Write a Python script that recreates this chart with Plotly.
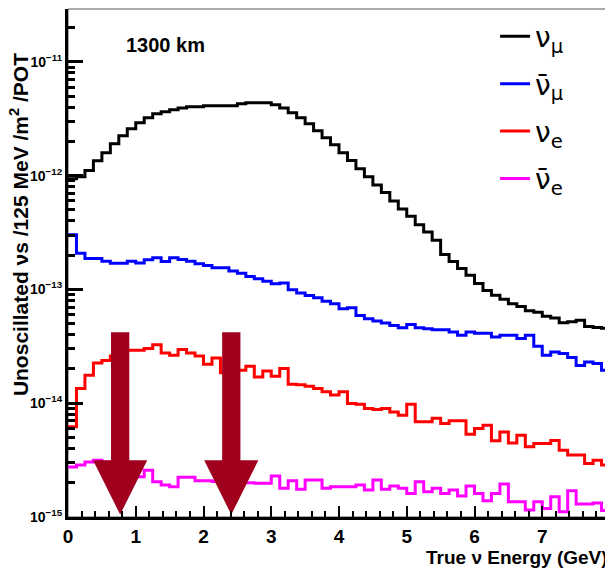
import numpy as np
import plotly.graph_objects as go

# ---------------- data ----------------
bin_width = 0.125  # GeV
n_bins = 64
bin_edges = [i * bin_width for i in range(n_bins + 1)]

numu = [9.4e-13, 9.8e-13, 1.11e-12, 1.35e-12, 1.59e-12, 1.91e-12, 2.24e-12, 2.58e-12,
        2.92e-12, 3.23e-12, 3.50e-12, 3.64e-12, 3.79e-12, 3.94e-12, 4.03e-12, 4.03e-12,
        4.11e-12, 4.11e-12, 4.11e-12, 4.11e-12, 4.29e-12, 4.37e-12, 4.37e-12, 4.37e-12,
        4.20e-12, 3.94e-12, 3.57e-12, 3.23e-12, 2.86e-12, 2.48e-12, 2.15e-12, 1.87e-12,
        1.59e-12, 1.36e-12, 1.15e-12, 9.8e-13, 8.3e-13, 7.1e-13, 6.0e-13, 5.1e-13,
        4.4e-13, 3.7e-13, 3.2e-13, 2.7e-13, 2.03e-13, 1.76e-13, 1.53e-13, 1.33e-13,
        1.13e-13, 9.8e-14, 8.9e-14, 8.2e-14, 7.5e-14, 7.1e-14, 6.5e-14, 6.3e-14,
        5.8e-14, 5.6e-14, 5.1e-14, 5.2e-14, 5.35e-14, 4.73e-14, 4.64e-14, 4.55e-14]

numubar = [3.03e-13, 2.08e-13, 1.87e-13, 1.87e-13, 1.77e-13, 1.70e-13, 1.70e-13, 1.77e-13,
           1.71e-13, 1.82e-13, 1.90e-13, 1.76e-13, 1.90e-13, 1.83e-13, 1.77e-13, 1.68e-13,
           1.62e-13, 1.55e-13, 1.55e-13, 1.45e-13, 1.39e-13, 1.30e-13, 1.24e-13, 1.18e-13,
           1.12e-13, 1.14e-13, 9.94e-14, 9.29e-14, 8.86e-14, 8.46e-14, 7.89e-14, 7.49e-14,
           6.77e-14, 6.91e-14, 5.91e-14, 5.53e-14, 5.27e-14, 5.06e-14, 4.83e-14, 4.61e-14,
           4.93e-14, 4.61e-14, 4.52e-14, 4.43e-14, 4.43e-14, 4.22e-14, 3.95e-14, 4.22e-14,
           4.13e-14, 4.13e-14, 3.82e-14, 3.95e-14, 3.95e-14, 3.70e-14, 3.95e-14, 3.16e-14,
           2.64e-14, 2.82e-14, 2.73e-14, 2.52e-14, 2.15e-14, 2.30e-14, 2.23e-14, 1.95e-14]

nue = [6.2e-15, 1.35e-14, 1.76e-14, 2.26e-14, 2.38e-14, 2.6e-14, 2.8e-14, 2.92e-14,
       2.92e-14, 3.02e-14, 3.27e-14, 2.76e-14, 2.64e-14, 2.96e-14, 2.76e-14, 2.60e-14,
       2.20e-14, 2.50e-14, 1.85e-14, 1.90e-14, 1.95e-14, 2.11e-14, 1.70e-14, 1.92e-14,
       1.73e-14, 2.02e-14, 1.47e-14, 1.45e-14, 1.41e-14, 1.35e-14, 1.26e-14, 1.18e-14,
       1.26e-14, 9.94e-15, 9.8e-15, 8.99e-15, 8.81e-15, 8.99e-15, 8.39e-15, 7.85e-15,
       9.8e-15, 6.86e-15, 6.86e-15, 7.39e-15, 6.64e-15, 7.0e-15, 7.0e-15, 5.35e-15,
       6.0e-15, 6.41e-15, 4.67e-15, 5.6e-15, 4.48e-15, 5.24e-15, 4.14e-15, 4.43e-15,
       4.43e-15, 4.7e-15, 3.87e-15, 3.5e-15, 3.5e-15, 2.96e-15, 3.16e-15, 2.86e-15]

nuebar = [2.75e-15, 2.86e-15, 3.05e-15, 3.16e-15, 3.05e-15, 2.9e-15, 2.7e-15, 2.45e-15,
          2.26e-15, 2.58e-15, 2.04e-15, 1.91e-15, 1.84e-15, 2.23e-15, 2.23e-15, 2.08e-15,
          2.08e-15, 2.05e-15, 2.0e-15, 2.0e-15, 2.0e-15, 2.0e-15, 1.98e-15, 1.98e-15,
          2.29e-15, 1.79e-15, 2.08e-15, 1.75e-15, 2.11e-15, 2.11e-15, 1.79e-15, 1.84e-15,
          1.84e-15, 1.84e-15, 1.91e-15, 1.73e-15, 2.11e-15, 1.75e-15, 1.87e-15, 1.79e-15,
          1.61e-15, 2.04e-15, 1.67e-15, 1.79e-15, 1.61e-15, 1.73e-15, 1.53e-15, 1.87e-15,
          1.61e-15, 1.39e-15, 1.61e-15, 1.95e-15, 1.36e-15, 1.36e-15, 1.15e-15, 1.36e-15,
          1.19e-15, 1.51e-15, 1.11e-15, 1.70e-15, 1.30e-15, 1.30e-15, 1.33e-15, 1.14e-15]

series_names = ["ν<sub>μ</sub>", "ν̄<sub>μ</sub>", "ν<sub>e</sub>", "ν̄<sub>e</sub>"]
series_values = [numu, numubar, nue, nuebar]
series_colors = ["#000000", "#0000ff", "#ff0000", "#ff00ff"]

# oscillation-maximum arrows (energies in GeV)
arrow_energies = [0.77, 2.41]
arrow_top = 4.2e-14
arrow_head_top = 3.16e-15
arrow_tip = 1.05e-15
shaft_half = 0.135
head_half = 0.40
arrow_color = "#a0001e"

y_tick_vals = [1e-15, 1e-14, 1e-13, 1e-12, 1e-11]
y_tick_text = ["10<sup>−15</sup>", "10<sup>−14</sup>", "10<sup>−13</sup>",
               "10<sup>−12</sup>", "10<sup>−11</sup>"]
x_tick_vals = [0, 1, 2, 3, 4, 5, 6, 7]

FONT = "Liberation Sans, Arial, sans-serif"
LEGFONT = "DejaVu Sans, Liberation Sans, sans-serif"

fig = go.Figure()
for name, vals, col in zip(series_names, series_values, series_colors):
    xs = bin_edges
    ys = list(vals) + [vals[-1]]
    fig.add_trace(go.Scatter(x=xs, y=ys, mode="lines", name=name,
                             line=dict(color=col, width=3, shape="hv"),
                             legendgroup=name))

for e in arrow_energies:
    px = [e - shaft_half, e + shaft_half, e + shaft_half, e + head_half, e,
          e - head_half, e - shaft_half, e - shaft_half]
    py = [arrow_top, arrow_top, arrow_head_top, arrow_head_top, arrow_tip,
          arrow_head_top, arrow_head_top, arrow_top]
    fig.add_trace(go.Scatter(x=px, y=py, mode="lines", fill="toself",
                             fillcolor=arrow_color, line=dict(color=arrow_color, width=0),
                             showlegend=False, hoverinfo="skip"))

minor_y = [m * 10.0 ** d for d in range(-15, -10) for m in range(2, 10)]

# the page body adds an 8 px offset, so the figure is sized 8 px smaller
fig.update_layout(
    width=605, height=568,
    margin=dict(l=60, r=3, t=1, b=59, autoexpand=False),
    paper_bgcolor="white", plot_bgcolor="white",
    font=dict(family=FONT, color="black"),
    showlegend=True,
    legend=dict(x=0.788, y=0.995, xanchor="left", yanchor="top",
                font=dict(family=LEGFONT, size=28, color="black"),
                bgcolor="rgba(0,0,0,0)", traceorder="grouped",
                tracegroupgap=8, itemwidth=30),
    xaxis=dict(range=[0, 8], showgrid=False, zeroline=False, automargin=False,
               tickvals=x_tick_vals, ticks="inside", ticklen=11, tickwidth=2,
               tickcolor="black",
               minor=dict(dtick=0.2, ticks="inside", ticklen=6, tickwidth=2,
                          tickcolor="black"),
               showline=True, linecolor="black", linewidth=3,
               tickfont=dict(family=FONT, size=19, weight="bold"),
               ),
    yaxis=dict(type="log", range=[-15, -10.535], showgrid=False, zeroline=False,
               automargin=False,
               tickvals=y_tick_vals, ticktext=y_tick_text, ticks="inside",
               ticklen=15, tickwidth=3, tickcolor="black",
               minor=dict(tickvals=minor_y, ticks="inside", ticklen=7, tickwidth=3,
                          tickcolor="black"),
               showline=True, linecolor="black", linewidth=3,
               tickfont=dict(family=FONT, size=14, weight="bold"),
               ),
    shapes=[dict(type="rect", xref="paper", yref="paper", x0=0, x1=1, y0=0, y1=1,
                 line=dict(color="#555555", width=1), layer="below")],
    annotations=[
        dict(text="<b>Unoscillated νs /125 MeV /m<sup>2</sup> /POT</b>",
             xref="paper", yref="paper", x=-0.090, y=0.575, textangle=-90,
             xanchor="center", yanchor="middle", showarrow=False,
             font=dict(family=FONT, size=21, color="black")),
        dict(text="<b>1300 km</b>", xref="paper", yref="paper", x=0.179, y=0.929,
             xanchor="center", yanchor="middle",
             showarrow=False, font=dict(family=FONT, size=20, color="black")),
        dict(text="<b>True ν Energy (GeV)</b>", xref="paper", yref="paper",
             x=1.0, y=-0.079, xanchor="right", yanchor="middle", showarrow=False,
             font=dict(family=FONT, size=19, color="black")),
    ],
)

fig.write_html("out.html")
